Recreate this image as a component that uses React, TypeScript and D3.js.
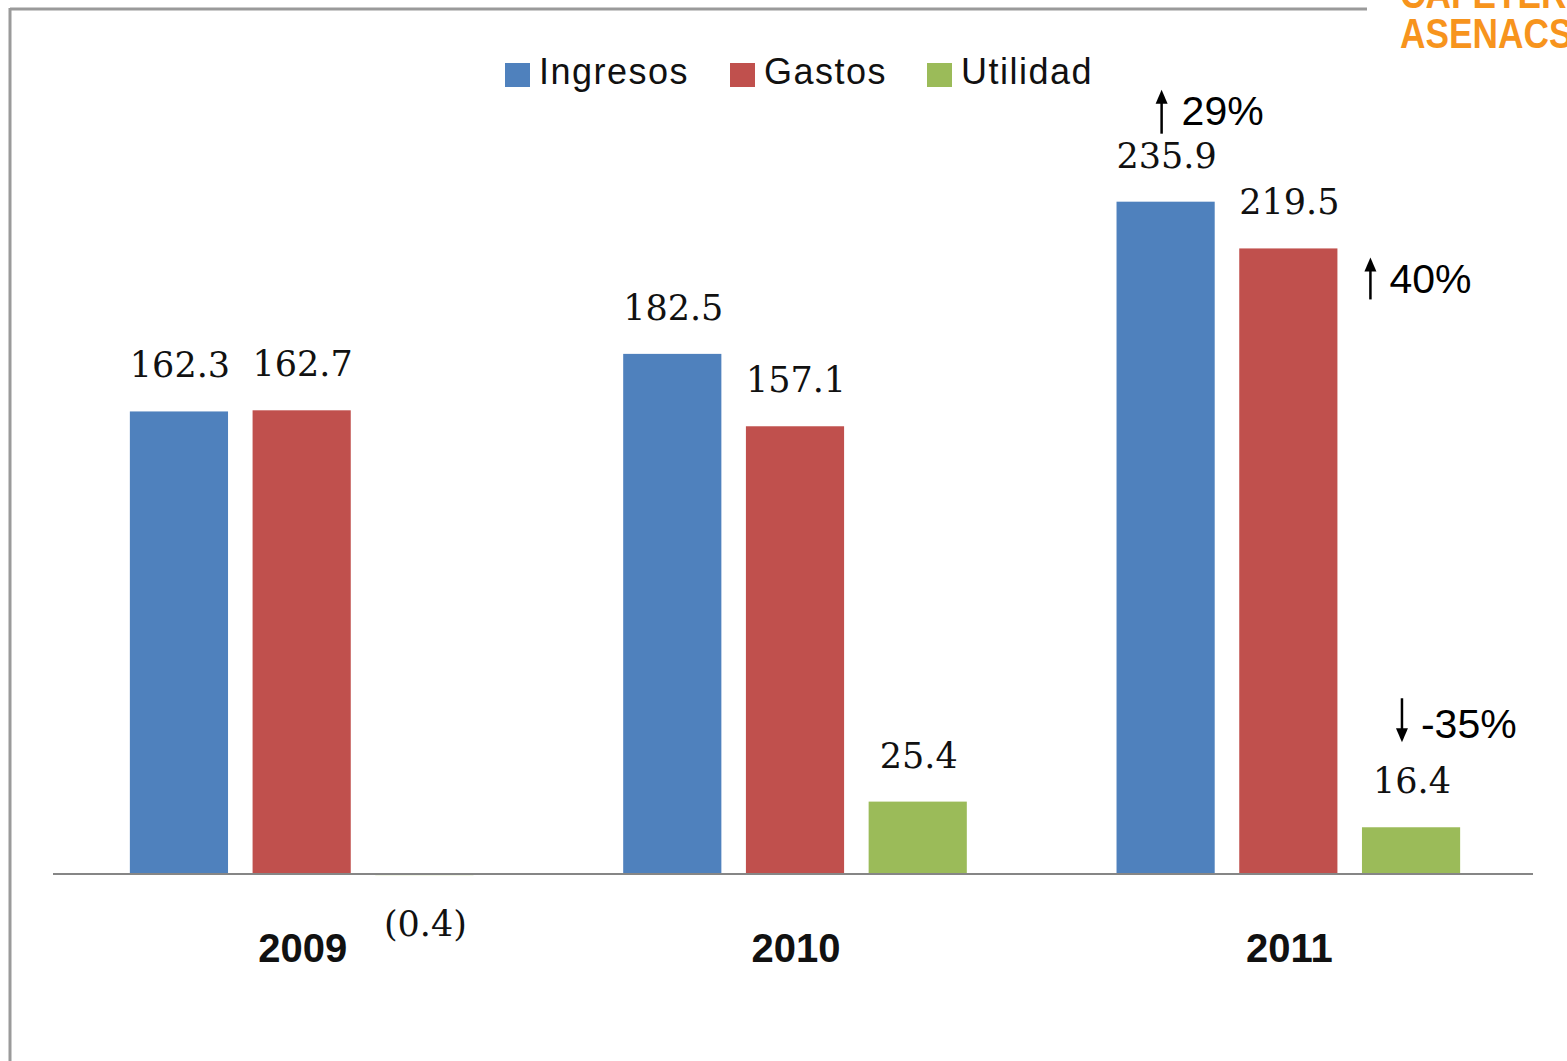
import React from "react";
import * as d3 from "d3";

const years = ["2009", "2010", "2011"];
const seriesNames = ["Ingresos", "Gastos", "Utilidad"];
const ingresos = [162.3, 182.5, 235.9];
const gastos = [162.7, 157.1, 219.5];
const utilidad = [-0.4, 25.4, 16.4];
const seriesColors = ["#4F81BD", "#C0504D", "#9BBB59"];

type Ann = { year: string; series: string; text: string; dir: "up" | "down" };
const annotations: Ann[] = [
  { year: "2011", series: "Ingresos", text: "29%", dir: "up" },
  { year: "2011", series: "Gastos", text: "40%", dir: "up" },
  { year: "2011", series: "Utilidad", text: "-35%", dir: "down" },
];

const W = 1567;
const H = 1061;

function fmt(v: number) {
  return v < 0 ? `(${Math.abs(v).toFixed(1)})` : v.toFixed(1);
}

export default function App() {
  const seriesValues = [ingresos, gastos, utilidad];
  const x0 = d3.scaleBand<string>().domain(years).range([55, 1535]).padding(0);
  const x1 = d3
    .scaleBand<string>()
    .domain(seriesNames)
    .range([0, x0.bandwidth()])
    .paddingInner(0.2)
    .paddingOuter(0.61);
  const y = d3.scaleLinear().domain([0, 250]).range([874, 161.5]);
  const y0 = y(0);

  const bars = years.flatMap((yr, i) =>
    seriesNames.map((s, j) => ({
      yr,
      s,
      v: seriesValues[j][i],
      color: seriesColors[j],
      x: (x0(yr) as number) + (x1(s) as number),
    }))
  );

  const legendItems = [
    { name: seriesNames[0], color: seriesColors[0], x: 505 },
    { name: seriesNames[1], color: seriesColors[1], x: 730 },
    { name: seriesNames[2], color: seriesColors[2], x: 927 },
  ];

  const annPos = annotations.map((a) => {
    const j = seriesNames.indexOf(a.series);
    const i = years.indexOf(a.year);
    const v = seriesValues[j][i];
    const bx = (x0(a.year) as number) + (x1(a.series) as number);
    return { ...a, v, bx };
  });

  return (
    <svg
      width={W}
      height={H}
      style={{ position: "absolute", left: 0, top: 0, background: "#fff" }}
    >
      <rect x={0} y={0} width={W} height={H} fill="#fff" />
      {/* frame */}
      <line x1={10} y1={9} x2={1367} y2={9} stroke="#9a9a9a" strokeWidth={3} />
      <line x1={10} y1={8} x2={10} y2={H} stroke="#9a9a9a" strokeWidth={3} />

      {/* logo */}
      <g
        fill="#F7941D"
        fontFamily="'Liberation Sans', Arial, sans-serif"
        fontWeight="bold"
        transform="translate(1400,0) scale(0.84,1)"
      >
        <text x={0} y={8} fontSize={42}>CAFETERIA</text>
        <text x={0} y={48} fontSize={42}>ASENACS</text>
      </g>

      {/* legend */}
      {legendItems.map((l) => (
        <g key={l.name}>
          <rect x={l.x} y={63} width={25} height={24} fill={l.color} />
          <text
            x={l.x + 34}
            y={84}
            fontSize={36}
            letterSpacing={1.5}
            fontFamily="'Liberation Sans', Arial, sans-serif"
            fill="#111"
          >
            {l.name}
          </text>
        </g>
      ))}

      {/* bars */}
      {bars.map((b) => (
        <rect
          key={b.yr + b.s}
          x={b.x}
          y={Math.min(y(b.v), y0)}
          width={x1.bandwidth()}
          height={Math.max(Math.abs(y(b.v) - y0), 1)}
          fill={b.color}
        />
      ))}

      {/* axis line */}
      <line x1={53} y1={y0} x2={1533} y2={y0} stroke="#868686" strokeWidth={2} />

      {/* value labels */}
      {bars.map((b) => (
        <text
          key={"l" + b.yr + b.s}
          x={b.x + x1.bandwidth() / 2 + 1}
          y={b.v >= 0 ? y(b.v) - 34 : y0 + 62}
          textAnchor="middle"
          fontSize={35}
          fontFamily="'DejaVu Serif', 'Liberation Serif', serif"
          fill="#111"
        >
          {fmt(b.v)}
        </text>
      ))}

      {/* year labels */}
      {years.map((yr) => (
        <text
          key={yr}
          x={(x0(yr) as number) + x0.bandwidth() / 2 + 1}
          y={962}
          textAnchor="middle"
          fontSize={40}
          fontWeight="bold"
          fontFamily="'Liberation Sans', Arial, sans-serif"
          fill="#111"
        >
          {yr}
        </text>
      ))}

      {/* growth annotations */}
      {annPos.map((a) => {
        let ax: number, yTop: number, yBot: number, tx: number, ty: number;
        if (a.series === "Ingresos") {
          ax = a.bx + x1.bandwidth() / 2 - 4;
          yBot = y(a.v) - 68;
          yTop = yBot - 44;
          tx = ax + 20;
          ty = yBot - 9;
        } else if (a.series === "Gastos") {
          ax = a.bx + x1.bandwidth() + 33;
          yTop = y(a.v) + 9;
          yBot = yTop + 42;
          tx = ax + 19;
          ty = yBot - 6;
        } else {
          ax = a.bx + 40;
          yTop = y(a.v) - 129;
          yBot = yTop + 44;
          tx = ax + 19;
          ty = yBot - 4;
        }
        const up = a.dir === "up";
        const tip = up ? yTop : yBot;
        const head = up
          ? `M${ax - 6},${tip + 14} L${ax},${tip} L${ax + 6},${tip + 14} Z`
          : `M${ax - 6},${tip - 14} L${ax},${tip} L${ax + 6},${tip - 14} Z`;
        return (
          <g key={"a" + a.series}>
            <line
              x1={ax}
              x2={ax}
              y1={up ? yTop + 8 : yTop}
              y2={up ? yBot : yBot - 8}
              stroke="#000"
              strokeWidth={2.5}
            />
            <path d={head} fill="#000" />
            <text
              x={tx}
              y={ty}
              fontSize={41}
              fontFamily="'Liberation Sans', Arial, sans-serif"
              fill="#000"
            >
              {a.text}
            </text>
          </g>
        );
      })}
    </svg>
  );
}
